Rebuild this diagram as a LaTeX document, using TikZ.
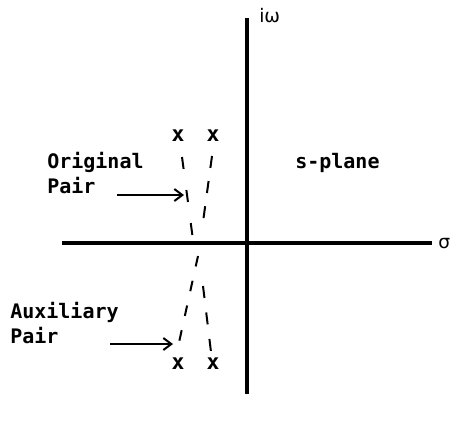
\documentclass[tikz,border=0pt]{standalone}
\usepackage{fontspec}
\setmonofont{DejaVu Sans Mono}
\newfontfamily\labelfont{DejaVu Sans}
\usetikzlibrary{arrows.meta}

\begin{document}
\begin{tikzpicture}[x=0.75pt,y=-0.75pt,
        axis/.style={line width=2.4pt},
        traj/.style={line width=1.5pt,dash pattern=on 9pt off 10pt},
        pointer/.style={line width=1.5pt,-{Straight Barb[length=6pt,width=9pt,line width=1.5pt]}},
        lbl/.style={font=\ttfamily\bfseries\fontsize{15}{18}\selectfont,inner sep=0pt,anchor=base west},
        pole/.style={font=\ttfamily\bfseries\fontsize{16}{18}\selectfont,inner sep=0pt}]
        \useasboundingbox (0,0) rectangle (474,421);
        % axes
        \coordinate (ytop) at (247,18);
        \coordinate (ybot) at (247,394);
        \coordinate (xleft) at (62,243);
        \coordinate (xright) at (432,243);
        \draw[axis] (ybot) -- (ytop);
        \draw[axis] (xleft) -- (xright);
        \node[font=\labelfont\fontsize{14}{16}\selectfont,inner sep=0pt,anchor=base west] (iw) at (259,22) {iω};
        \node[font=\labelfont\fontsize{14}{16}\selectfont,inner sep=0pt,anchor=base west] (sig) at (438,248) {σ};
        \node[lbl] (splane) at (295,168) {s-plane};
        % poles
        \node[pole] (p1) at (178,136) {x};
        \node[pole] (p2) at (213,136) {x};
        \node[pole] (p3) at (178,364) {x};
        \node[pole] (p4) at (213,364) {x};
        % root paths
        \coordinate (s1) at (182,157);
        \coordinate (s2) at (212,156);
        \coordinate (s3) at (178,347);
        \coordinate (s4) at (211,352);
        \coordinate (m1) at (193,240);
        \coordinate (m2) at (203,222);
        \coordinate (m3) at (198,256);
        \coordinate (m4) at (203,286);
        \draw[traj,dash pattern=on 9pt off 16pt] (s1) -- (m1);
        \draw[traj] (s2) -- (m2);
        \draw[traj,dash pattern=on 8pt off 11pt] (m3) -- (s3);
        \draw[traj,dash pattern=on 9pt off 11pt] (m4) -- (s4);
        % labels
        \node[lbl] (orig) at (47,168) {Original};
        \node[lbl] (opair) at (47,193) {Pair};
        \node[lbl] (aux) at (10,318) {Auxiliary};
        \node[lbl] (apair) at (10,343) {Pair};
        \coordinate (otail) at (117,195);
        \coordinate (otip) at (184,195);
        \coordinate (atail) at (110,344);
        \coordinate (atip) at (173,344);
        \draw[pointer] (otail) -- (otip);
        \draw[pointer] (atail) -- (atip);
      \end{tikzpicture}
\end{document}
